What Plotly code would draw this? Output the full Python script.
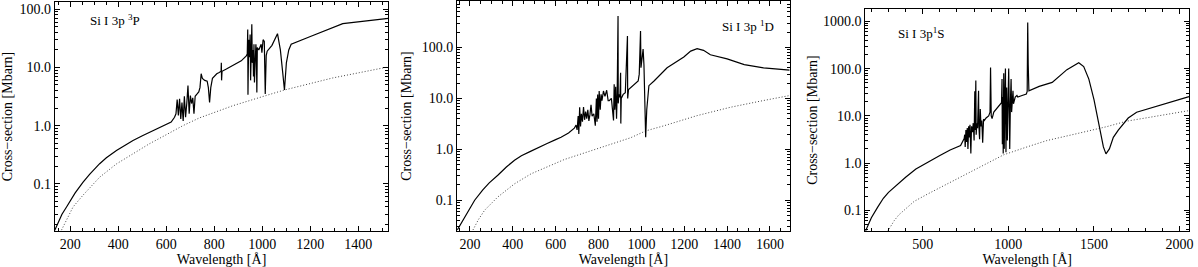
import plotly.graph_objects as go

# ---------------- data: Si I 3p 3P ----------------
p1_wl = [135, 150, 165, 184, 200, 220, 253, 280, 322, 350, 392, 430, 461, 500, 530, 570, 600, 620, 634,
         640, 645, 650, 655, 660, 665, 670, 675, 680, 685, 690,
         695, 700, 705, 710, 715, 720, 728, 735, 740, 745, 750, 760, 770, 775, 780, 785, 792, 800, 810, 820,
         828, 829, 830, 832, 850, 880, 912, 933, 937, 939, 940, 943, 946, 949, 951, 954, 956, 958, 961, 963,
         965, 967, 970, 973, 975, 977, 979, 985, 995, 998, 1003, 1008, 1012, 1016, 1020, 1040, 1063, 1075,
         1085, 1092, 1100, 1110, 1120, 1154, 1200, 1335, 1525]
p1_cs = [0.016, 0.022, 0.030, 0.040, 0.052, 0.070, 0.107, 0.145, 0.222, 0.28, 0.375, 0.47, 0.556, 0.67, 0.77,
         0.92, 1.04, 1.15, 1.39, 1.6, 2.8, 1.5, 2.9, 1.3, 2.5, 1.2, 3.2, 1.4,
         2.4, 4.9, 1.6, 3.3, 2.4, 3.0, 1.6, 3.2, 3.5, 3.8, 4.5, 7.8, 6.5, 6.0, 5.8, 4.5, 2.5, 4.5, 6.5, 7.2,
         7.8, 8.2, 8.6, 12.0, 6.0, 8.6, 9.4, 11.0, 13.0, 15.8, 17.0, 45.0, 3.4, 30.0, 15.0, 37.0, 6.0, 20.0,
         55.0, 12.0, 20.0, 7.0, 25.0, 5.5, 22.0, 25.0, 18.0, 3.7, 22.0, 20.0, 25.0, 18.0, 30.0, 28.0, 3.5,
         16.0, 19.0, 24.0, 38.0, 20.0, 8.0, 4.1, 12.0, 20.0, 25.0, 28.6, 34.0, 56.6, 70.0]
p1_bg_wl = [163, 211, 253, 322, 392, 461, 530, 600, 669, 738, 877, 1016, 1092, 1293, 1529]
p1_bg_cs = [0.016, 0.040, 0.064, 0.13, 0.22, 0.33, 0.49, 0.70, 1.0, 1.36, 2.2, 3.3, 4.1, 6.6, 10.3]

# ---------------- data: Si I 3p 1D ----------------
p2_wl = [141, 160, 180, 200, 222, 260, 290, 330, 370, 408, 440, 480, 520, 560, 600, 625, 660, 687, 695, 700,
         705, 708, 712, 716, 720, 725, 730, 735, 740, 745,
         750, 755, 760, 765, 770, 778, 785, 790, 793, 796, 800, 803, 808, 812, 816, 823, 830, 838, 845, 850,
         860, 870, 873, 876, 880, 884, 887, 891, 892, 895, 900, 903, 904, 906, 915, 925, 935, 936, 940, 960,
         985, 990, 996, 998, 1004, 1008, 1012, 1016, 1020, 1025, 1035, 1059, 1120, 1198, 1230, 1260, 1290,
         1322, 1400, 1480, 1570, 1692]
p2_cs = [0.026, 0.036, 0.05, 0.07, 0.10, 0.16, 0.22, 0.31, 0.45, 0.61, 0.75, 0.9, 1.1, 1.3, 1.55, 1.73, 2.1,
         2.6, 3.0, 2.4, 4.5, 2.0, 6.7, 2.8, 5.0, 3.5, 6.8, 3.8, 5.5,
         4.0, 6.0, 3.6, 4.8, 7.5, 4.5, 5.0, 2.9, 10.0, 3.5, 12.0, 4.0, 14.0, 6.0, 12.0, 9.0, 14.0, 11.0, 14.5,
         9.0, 9.0, 10.0, 3.7, 19.0, 6.0, 17.0, 4.0, 12.0, 417.0, 8.0, 12.0, 10.5, 32.0, 3.2, 10.0, 12.0, 13.0,
         169.0, 10.0, 15.0, 18.0, 22.0, 30.0, 212.0, 40.0, 60.0, 93.0, 45.0, 5.0, 1.73, 6.0, 17.8, 22.0, 40.0,
         65.0, 85.0, 95.0, 88.0, 72.0, 60.0, 46.0, 40.0, 36.0]
p2_bg_wl = [214, 240, 269, 330, 408, 485, 640, 795, 950, 1020, 1105, 1260, 1415, 1570, 1692]
p2_bg_cs = [0.026, 0.042, 0.064, 0.116, 0.21, 0.33, 0.63, 1.03, 1.69, 2.3, 2.9, 4.6, 6.7, 9.1, 11.4]

# ---------------- data: Si I 3p 1S ----------------
p3_wl = [165, 180, 200, 237, 270, 300, 334, 400, 460, 527, 600, 660, 721, 742, 745, 748, 752, 756, 760, 764,
         768, 772, 776, 781, 785, 790, 795, 800,
         804, 806, 810, 812, 816, 820, 826, 828, 832, 836, 840, 845, 850, 855, 860, 870, 885, 893, 896, 900,
         905, 915, 930, 945, 960, 963, 965, 968, 970, 973, 976, 980, 983, 986, 990, 994, 998, 1002, 1005,
         1008, 1012, 1016, 1019, 1023, 1027, 1030, 1035, 1040, 1050, 1055, 1080, 1105, 1110, 1113, 1116,
         1120, 1180, 1256, 1342, 1411, 1440, 1470, 1500, 1530, 1555, 1570, 1590, 1613, 1642, 1700, 1749, 2055]
p3_cs = [0.036, 0.05, 0.07, 0.117, 0.18, 0.24, 0.31, 0.5, 0.75, 1.04, 1.45, 1.9, 2.35, 3.3, 4.0, 2.2, 5.0,
         2.8, 5.5, 2.0, 6.0, 3.5, 6.5, 1.6, 6.0, 4.5, 7.0,
         3.0, 33.0, 5.0, 56.0, 4.0, 7.0, 5.5, 34.0, 6.0, 3.2, 14.0, 6.0, 8.0, 2.7, 8.5, 8.0, 9.0, 10.0, 12.0,
         105.0, 10.0, 8.7, 12.0, 14.0, 17.0, 19.0, 60.0, 2.5, 25.0, 1.6, 80.0, 2.0, 30.0, 100.0, 1.7, 40.0,
         3.0, 20.0, 100.0, 15.0, 2.0, 20.0, 60.0, 12.0, 25.0, 34.0, 18.0, 22.0, 25.0, 27.0, 25.0, 27.0, 29.0,
         33.0, 950.0, 120.0, 34.0, 42.0, 51.0, 95.0, 133.0, 110.0, 60.0, 22.0, 6.5, 2.2, 1.57, 2.0, 3.5, 5.0,
         9.0, 11.9, 25.6]
p3_bg_wl = [295, 334, 360, 392, 450, 527, 620, 721, 850, 973, 1109, 1225, 1400, 1574, 1690, 1850, 2055]
p3_bg_cs = [0.036, 0.061, 0.08, 0.10, 0.155, 0.22, 0.33, 0.50, 0.9, 1.5, 2.2, 3.0, 4.2, 5.9, 7.7, 9.8, 12.9]

# ---------------- axis labels ----------------
y_tickvals = [0.1, 1, 10, 100, 1000]
y_ticktext = ["0.1", "1.0", "10.0", "100.0", "1000.0"]
y_minor = [m * 10 ** e for e in range(-2, 4) for m in range(2, 10)]
panel_labels = ["Si I 3p <sup>3</sup>P", "Si I 3p <sup>1</sup>D", "Si I 3p<sup>1</sup>S"]

W, H = 1198, 267
FONT = "Liberation Serif"

panels = [
    dict(wl=p1_wl, cs=p1_cs, bwl=p1_bg_wl, bcs=p1_bg_cs, box=(55, 390, 1, 231),
         xr=[135, 1525], yr=[-1.813, 2.125], dtick=200, mdt=50, lab=(0.10, 0.92, "left"), ys=6),
    dict(wl=p2_wl, cs=p2_cs, bwl=p2_bg_wl, bcs=p2_bg_cs, box=(459, 793, 0, 231),
         xr=[140, 1692], yr=[-1.607, 2.914], dtick=200, mdt=50, lab=(0.96, 0.89, "right"), ys=6),
    dict(wl=p3_wl, cs=p3_cs, bwl=p3_bg_wl, bcs=p3_bg_cs, box=(869, 1194, 8, 231),
         xr=[165, 2055], yr=[-1.44, 3.262], dtick=500, mdt=100, lab=(0.095, 0.89, "left"), ys=2),
]

fig = go.Figure()
annotations = []
for i, p in enumerate(panels):
    n = "" if i == 0 else str(i + 1)
    xa, ya = "x" + n, "y" + n
    fig.add_trace(go.Scatter(x=p["bwl"], y=p["bcs"], mode="lines", xaxis=xa, yaxis=ya,
                             line=dict(color="#444444", width=1, dash="1px,2px"), showlegend=False))
    fig.add_trace(go.Scatter(x=p["wl"], y=p["cs"], mode="lines", xaxis=xa, yaxis=ya,
                             line=dict(color="black", width=1.2), showlegend=False))
    x0, x1, yt, yb = p["box"]
    common = dict(showline=True, linecolor="black", linewidth=1, mirror="allticks", ticks="inside",
                  ticklen=5, tickcolor="black", showgrid=False, zeroline=False, ticklabeloverflow="allow",
                  tickfont=dict(family=FONT, size=14, color="black"))
    fig.update_layout(**{
        "xaxis" + n: dict(domain=[x0 / W, x1 / W], range=p["xr"], anchor=ya, dtick=p["dtick"], tick0=0,
                          minor=dict(ticks="inside", ticklen=3, dtick=p["mdt"], tick0=0, tickcolor="black"),
                          title=dict(text="Wavelength [Å]", font=dict(family=FONT, size=14, color="black"),
                                     standoff=1),
                          **common),
        "yaxis" + n: dict(domain=[1 - yb / H, 1 - yt / H], type="log", range=p["yr"], anchor=xa,
                          tickmode="array", tickvals=y_tickvals, ticktext=y_ticktext,
                          minor=dict(ticks="inside", ticklen=3, tickmode="array", tickvals=y_minor,
                                     tickcolor="black"),
                          title=dict(text="Cross−section [Mbarn]", font=dict(family=FONT, size=14, color="black"),
                                     standoff=p["ys"]),
                          **common),
    })
    lx, ly, anc = p["lab"]
    annotations.append(dict(text=panel_labels[i], xref=xa + " domain", yref=ya + " domain", x=lx, y=ly,
                            xanchor=anc, yanchor="middle", showarrow=False,
                            font=dict(family=FONT, size=13, color="black")))

fig.update_layout(width=W, height=H, margin=dict(l=0, r=0, t=0, b=0), plot_bgcolor="white",
                  paper_bgcolor="white", annotations=annotations, showlegend=False)
fig.write_html("out.html", config={"displayModeBar": False},
               post_script="document.body.style.margin='0';document.body.style.overflow='hidden';")
